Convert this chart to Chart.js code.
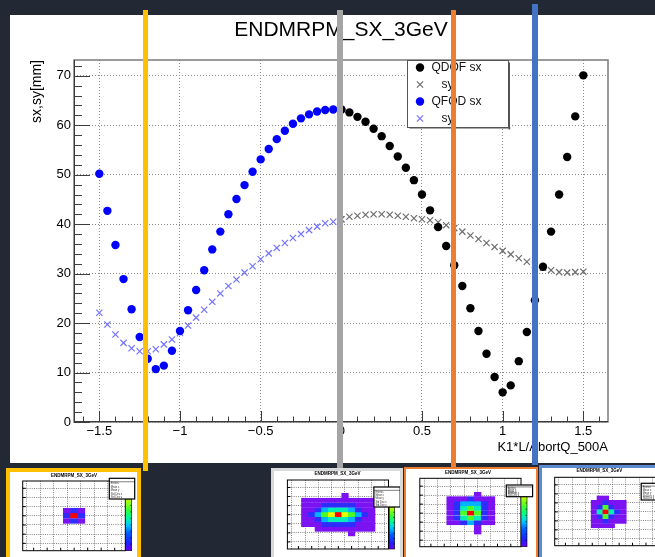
<!DOCTYPE html>
<html lang="en">
<head>
<meta charset="utf-8">
<title>ENDMRPM_SX_3GeV</title>
<script src="https://cdn.jsdelivr.net/npm/chart.js@4.4.1/dist/chart.umd.min.js"></script>
<style>
  html, body { margin: 0; padding: 0; }
  body { position: relative; width: 655px; height: 557px; overflow: hidden; background: #222834; }
  #panel { position: absolute; left: 10px; top: 15px; width: 645px; height: 448px; background: #fff; }
  .thumb { position: absolute; box-sizing: border-box; background: #fff; border-style: solid; overflow: hidden; }
  .thumb canvas { position: absolute; left: 0; top: 0; }
  .marker-line { position: absolute; }
</style>
</head>
<body>
<div id="panel"><canvas id="scan" width="645" height="448"></canvas></div>
<div id="thumbs"></div>
<div class="marker-line" style="left:143px;top:10px;width:5px;height:461px;background:#FFC000"></div>
<div class="marker-line" style="left:337px;top:10px;width:6px;height:458px;background:#A5A5A5"></div>
<div class="marker-line" style="left:451px;top:10px;width:5px;height:457px;background:#ED7D31"></div>
<div class="marker-line" style="left:532px;top:4px;width:6px;height:461px;background:#4472C4"></div>
<script>
// QFOD scan (K1*L/AbortQ_500A from -1.5 to 0)
const kQfod = [-1.5, -1.45, -1.4, -1.35, -1.3, -1.25, -1.2, -1.15, -1.1, -1.05, -1.0,
               -0.95, -0.9, -0.85, -0.8, -0.75, -0.7, -0.65, -0.6, -0.55, -0.5,
               -0.45, -0.4, -0.35, -0.3, -0.25, -0.2, -0.15, -0.1, -0.05, 0];
const qfodSx = [50.2, 42.7, 35.8, 28.9, 22.8, 17.2, 12.8, 10.7, 11.4, 14.4, 18.4,
                22.6, 26.7, 30.7, 34.9, 38.5, 42.0, 45.1, 47.9, 50.6, 53.1,
                55.2, 57.2, 58.9, 60.3, 61.4, 62.2, 62.8, 63.1, 63.2, 63.2];
const qfodSy = [22.1, 19.7, 17.7, 16.0, 14.9, 14.3, 14.3, 14.7, 15.7, 16.7, 18.0,
                19.5, 21.1, 22.7, 24.3, 26.0, 27.5, 28.8, 30.2, 31.5, 32.9,
                34.1, 35.2, 36.2, 37.2, 38.0, 38.8, 39.5, 40.2, 40.5, 41.0];

// QDOF scan (K1*L/AbortQ_500A from 0 to 1.5)
const kQdof = [0, 0.05, 0.1, 0.15, 0.2, 0.25, 0.3, 0.35, 0.4, 0.45, 0.5,
               0.55, 0.6, 0.65, 0.7, 0.75, 0.8, 0.85, 0.9, 0.95, 1.0,
               1.05, 1.1, 1.15, 1.2, 1.25, 1.3, 1.35, 1.4, 1.45, 1.5];
const qdofSx = [63.2, 62.6, 61.7, 60.7, 59.3, 57.8, 55.8, 53.7, 51.4, 48.9, 46.0,
                42.8, 39.4, 35.6, 31.7, 27.5, 23.0, 18.4, 13.8, 9.1, 6.0,
                7.4, 12.3, 18.2, 24.6, 31.4, 38.5, 46.0, 53.6, 61.8, 70.1];
const qdofSy = [41.0, 41.5, 41.7, 41.9, 42.0, 42.0, 41.9, 41.7, 41.5, 41.2, 41.0,
                40.8, 40.4, 39.8, 39.2, 38.5, 37.7, 37.0, 36.2, 35.4, 34.6,
                33.9, 33.1, 32.4, 31.8, 31.2, 30.7, 30.3, 30.2, 30.3, 30.4];

const seriesLabels = ['QDOF sx', '   sy', 'QFOD sx', '   sy'];
const xTicks = [-1.5, -1, -0.5, 0, 0.5, 1, 1.5];
const xTickLabels = ['\u22121.5', '\u22121', '\u22120.5', '0', '0.5', '1', '1.5'];
const yTicks = [0, 10, 20, 30, 40, 50, 60, 70];
const yTickLabels = ['0', '10', '20', '30', '40', '50', '60', '70'];

// beam spot thumbnails: colour level per bin, rows from top
const beamSpot1 = [[1, 2, 1],
                   [2, 7, 2],
                   [1, 2, 1]];
const beamSpot2 = [[0, 0, 0, 0, 0, 0, 1, 0, 0, 0, 0],
                   [1, 1, 1, 1, 1, 1, 1, 1, 1, 1, 1],
                   [1, 1, 1, 2, 2, 2, 2, 2, 1, 1, 1],
                   [1, 1, 2, 3, 4, 4, 4, 3, 2, 1, 1],
                   [1, 2, 3, 5, 6, 7, 6, 5, 3, 2, 1],
                   [1, 1, 2, 3, 4, 4, 4, 3, 2, 1, 1],
                   [1, 1, 1, 2, 2, 2, 2, 2, 1, 1, 1],
                   [0, 0, 1, 1, 1, 1, 1, 1, 1, 1, 1],
                   [0, 0, 0, 0, 0, 0, 0, 1, 0, 0, 0]];
const beamSpot3 = [[0, 0, 0, 0, 1, 0, 0],
                   [1, 1, 1, 2, 1, 1, 1],
                   [1, 2, 3, 3, 3, 2, 1],
                   [1, 2, 4, 5, 4, 2, 1],
                   [1, 2, 5, 7, 5, 2, 1],
                   [1, 2, 4, 5, 4, 2, 1],
                   [1, 1, 2, 3, 2, 1, 1],
                   [0, 0, 0, 0, 1, 0, 0],
                   [0, 0, 0, 0, 1, 0, 0]];
const beamSpot4 = [[0, 1, 1, 0, 0, 0],
                   [1, 1, 2, 1, 1, 1],
                   [1, 2, 5, 2, 1, 1],
                   [1, 4, 7, 4, 2, 1],
                   [1, 2, 5, 2, 1, 1],
                   [1, 1, 2, 1, 1, 1],
                   [1, 1, 1, 1, 0, 0]];
const heatColors = ['#7b12f2', '#2d2dff', '#00b2ff', '#00f0b4', '#4cff20', '#e6ff00', '#ff0000'];
const statNames = ['Entries', 'Mean x', 'Mean y', 'Std Dev x', 'Std Dev y'];

Chart.defaults.font.family = '"Liberation Sans", Arial, Helvetica, sans-serif';
Chart.defaults.color = '#000';
Chart.defaults.animation = false;

function points(xs, ys) {
    return xs.map(function(x, i) { return { x: x, y: ys[i] }; });
}

// ROOT style frame, inward ticks, title and legend box
const rootFrame = {
    id: 'rootFrame',
    afterDatasetsDraw(chart) {
        const ctx = chart.ctx, a = chart.chartArea;
        const xs = chart.scales.x, ys = chart.scales.y;
        ctx.save();
        ctx.strokeStyle = '#7a7a7a';
        ctx.lineWidth = 1.5;
        ctx.strokeRect(a.left, a.top, a.right - a.left, a.bottom - a.top);

        ctx.strokeStyle = '#3c3c3c';
        ctx.lineWidth = 1;
        ctx.beginPath();
        ctx.moveTo(a.left + 0.5, a.top);
        ctx.lineTo(a.left + 0.5, a.bottom);
        ctx.moveTo(a.left, a.bottom - 0.5);
        ctx.lineTo(a.right, a.bottom - 0.5);
        for (let i = 0; i * 2 <= ys.max; i++) {
            const py = Math.round(ys.getPixelForValue(i * 2)) + 0.5;
            ctx.moveTo(a.left, py);
            ctx.lineTo(a.left + (i % 5 === 0 ? 16 : 8), py);
        }
        for (let i = -16; i <= 16; i++) {
            const v = i / 10;
            if (v < xs.min || v > xs.max) continue;
            const px = Math.round(xs.getPixelForValue(v)) + 0.5;
            ctx.moveTo(px, a.bottom);
            ctx.lineTo(px, a.bottom - (i % 5 === 0 ? 11 : 5.5));
        }
        ctx.stroke();
        ctx.restore();
    },
    afterDraw(chart) {
        const ctx = chart.ctx;
        ctx.save();
        ctx.fillStyle = '#000';
        ctx.font = '21px "Liberation Sans", Arial, sans-serif';
        ctx.textAlign = 'center';
        ctx.textBaseline = 'middle';
        ctx.fillText('ENDMRPM_SX_3GeV', 331, 15);

        // legend
        const box = { left: 397.5, top: 45.5, right: 498.5, bottom: 112.5 };
        ctx.fillStyle = '#fff';
        ctx.fillRect(box.left, box.top, box.right - box.left, box.bottom - box.top);
        ctx.strokeStyle = '#555';
        ctx.lineWidth = 1;
        ctx.strokeRect(box.left, box.top, box.right - box.left, box.bottom - box.top);
        ctx.fillStyle = '#555';
        ctx.fillRect(box.right, box.top + 2, 1.5, box.bottom - box.top);
        ctx.fillRect(box.left + 2, box.bottom, box.right - box.left, 1);

        ctx.font = '12px "Liberation Sans", Arial, sans-serif';
        ctx.textAlign = 'left';
        chart.data.datasets.forEach(function(ds, i) {
            const y = box.top + 7 + i * 17;
            ctx.fillStyle = ds.pointBackgroundColor;
            ctx.strokeStyle = ds.pointBorderColor;
            ctx.lineWidth = ds.pointBorderWidth || 1;
            Chart.helpers.drawPoint(ctx, {
                pointStyle: ds.pointStyle, radius: ds.pointRadius, rotation: 0,
                borderWidth: ds.pointBorderWidth
            }, 410, y);
            ctx.fillStyle = '#111';
            ctx.fillText(ds.label, 421.5, y + 0.5);
        });
        ctx.restore();
    }
};

new Chart(document.getElementById('scan'), {
    type: 'scatter',
    data: {
        datasets: [
            { label: seriesLabels[0], data: points(kQdof, qdofSx), pointStyle: 'circle', pointRadius: 4.2,
              pointBackgroundColor: '#000', pointBorderColor: '#000', pointBorderWidth: 0 },
            { label: seriesLabels[1], data: points(kQdof, qdofSy), pointStyle: 'crossRot', pointRadius: 4.4,
              pointBackgroundColor: '#6e6e6e', pointBorderColor: '#6e6e6e', pointBorderWidth: 1.2 },
            { label: seriesLabels[2], data: points(kQfod, qfodSx), pointStyle: 'circle', pointRadius: 4.2,
              pointBackgroundColor: '#0000ff', pointBorderColor: '#0000ff', pointBorderWidth: 0 },
            { label: seriesLabels[3], data: points(kQfod, qfodSy), pointStyle: 'crossRot', pointRadius: 4.4,
              pointBackgroundColor: '#7474ff', pointBorderColor: '#7474ff', pointBorderWidth: 1.2 }
        ]
    },
    options: {
        responsive: false,
        layout: { padding: { left: 0, right: 47, top: 45, bottom: 0 } },
        plugins: { legend: { display: false }, title: { display: false }, tooltip: { enabled: false } },
        scales: {
            x: {
                type: 'linear', min: -1.657, max: 1.653,
                afterBuildTicks: function(s) { s.ticks = xTicks.map(function(v) { return { value: v }; }); },
                afterFit: function(s) { s.height = 41; },
                grid: { color: '#8c8c8c', lineWidth: 1, drawTicks: false },
                border: { display: false, dash: [1, 2] },
                ticks: { padding: 2, maxRotation: 0, font: { size: 13 },
                         callback: function(v, i) { return xTickLabels[i]; } },
                title: { display: true, text: 'K1*L/AbortQ_500A', align: 'end',
                         font: { size: 13 }, padding: { top: 0, bottom: 7.7 } }
            },
            y: {
                min: 0, max: 73.2,
                afterBuildTicks: function(s) { s.ticks = yTicks.map(function(v) { return { value: v }; }); },
                afterFit: function(s) { s.width = 64; },
                grid: { color: '#8c8c8c', lineWidth: 1, drawTicks: false },
                border: { display: false, dash: [1, 2] },
                ticks: { padding: 3, font: { size: 13 },
                         callback: function(v, i) { return yTickLabels[i]; } },
                title: { display: true, text: 'sx,sy[mm]', align: 'end',
                         font: { size: 14 }, padding: { top: 18.6, bottom: 0 } }
            }
        }
    },
    plugins: [rootFrame]
});

// thumbnails of the beam spot (page coordinates)
const thumbs = [
    { left: 6, top: 468, width: 135, height: 100, border: 4, color: '#FFC000', cells: beamSpot1, cx: 1, cy: 1,
      frame: [22.7, 481, 125.3, 550.7], stats: [109.3, 478.3, 134.7, 499], palette: [125.3, 499, 131.7, 550.7],
      titleAt: [74, 475.7], xr: [-7.12, 7.07], yr: [-6.98, 6.96] },
    { left: 271, top: 468, width: 132, height: 100, border: 3, color: '#d9d9d9', cells: beamSpot2, cx: 5, cy: 4,
      frame: [287.4, 480, 388.5, 549], stats: [373.9, 487, 400.2, 507], palette: [389.3, 507, 394.7, 549],
      titleAt: [337.5, 474], xr: [-7.6, 7.49], yr: [-7.22, 7.3] },
    { left: 404, top: 467, width: 134, height: 100, border: 2, color: '#ED7D31', cells: beamSpot3, cx: 3, cy: 4,
      frame: [419.8, 478.3, 521, 546.7], stats: [506.3, 485, 532.6, 496.7], palette: [521, 496.7, 527, 546.7],
      titleAt: [468, 472.3], xr: [-7.4, 7.27], yr: [-7.14, 7.41] },
    { left: 539, top: 465, width: 130, height: 100, border: 3, color: '#5b8ad2', cells: beamSpot4, cx: 2, cy: 3,
      frame: [554.7, 477.3, 656.7, 545.7], stats: [641.2, 483.3, 667, 500], palette: [657, 500, 663, 545.7],
      titleAt: [599.4, 471], xr: [-8.65, 8.65], yr: [-7.35, 7.52] }
];

function makeHistDecor(t, ox, oy) {
    return {
        id: 'histDecor',
        afterDraw(chart) {
            const ctx = chart.ctx, a = chart.chartArea;
            const xs = chart.scales.x, ys = chart.scales.y;
            ctx.save();
            ctx.strokeStyle = '#000';
            ctx.lineWidth = 1;
            ctx.strokeRect(a.left, a.top, a.right - a.left, a.bottom - a.top);
            ctx.beginPath();
            xs.ticks.forEach(function(tk) {
                const px = xs.getPixelForValue(tk.value);
                ctx.moveTo(px, a.bottom); ctx.lineTo(px, a.bottom - 3);
            });
            ys.ticks.forEach(function(tk) {
                const py = ys.getPixelForValue(tk.value);
                ctx.moveTo(a.left, py); ctx.lineTo(a.left + 3, py);
            });
            ctx.stroke();

            // colour palette
            const p = t.palette;
            const g = ctx.createLinearGradient(0, p[3] - oy, 0, p[1] - oy);
            g.addColorStop(0, '#6a00ff');
            g.addColorStop(0.15, '#2020ff');
            g.addColorStop(0.35, '#0060ff');
            g.addColorStop(0.5, '#00c8ff');
            g.addColorStop(0.65, '#00ff90');
            g.addColorStop(0.8, '#40ff30');
            g.addColorStop(1, '#c8ff00');
            ctx.fillStyle = g;
            ctx.fillRect(p[0] - ox, p[1] - oy, p[2] - p[0], p[3] - p[1]);
            ctx.lineWidth = 0.6;
            ctx.strokeRect(p[0] - ox, p[1] - oy, p[2] - p[0], p[3] - p[1]);
            ctx.beginPath();
            for (let k = 1; k < 8; k++) {
                const py = p[1] - oy + k * (p[3] - p[1]) / 8;
                ctx.moveTo(p[2] - ox - 1.5, py); ctx.lineTo(p[2] - ox, py);
            }
            ctx.stroke();

            // stats box
            const s = t.stats;
            const sw = s[2] - s[0], sh = s[3] - s[1];
            ctx.fillStyle = '#fff';
            ctx.fillRect(s[0] - ox, s[1] - oy, sw, sh);
            ctx.lineWidth = 1.2;
            ctx.strokeRect(s[0] - ox, s[1] - oy, sw, sh);
            ctx.lineWidth = 0.5;
            ctx.beginPath();
            ctx.moveTo(s[0] - ox, s[1] - oy + sh / 6);
            ctx.lineTo(s[2] - ox, s[1] - oy + sh / 6);
            ctx.stroke();
            ctx.fillStyle = '#333';
            ctx.font = '2.6px "Liberation Sans", Arial, sans-serif';
            ctx.textAlign = 'left';
            ctx.textBaseline = 'middle';
            statNames.forEach(function(name, k) {
                ctx.fillText(name, s[0] - ox + 1.5, s[1] - oy + sh / 6 + (k + 0.5) * (sh * 5 / 6) / 5);
            });

            ctx.fillStyle = '#000';
            ctx.font = 'bold 4.5px "Liberation Sans", Arial, sans-serif';
            ctx.textAlign = 'center';
            ctx.fillText('ENDMRPM_SX_3GeV', t.titleAt[0] - ox, t.titleAt[1] - oy);
            ctx.restore();
        }
    };
}

function gridTicks(range) {
    const step = (range[1] - range[0]) / 7.6;
    const out = [];
    for (let k = -4; k <= 4; k++) {
        const v = k * step;
        if (v > range[0] && v < range[1]) out.push({ value: v });
    }
    return out;
}

thumbs.forEach(function(t) {
    const div = document.createElement('div');
    div.className = 'thumb';
    div.style.left = t.left + 'px';
    div.style.top = t.top + 'px';
    div.style.width = t.width + 'px';
    div.style.height = t.height + 'px';
    div.style.borderWidth = t.border + 'px';
    div.style.borderColor = t.color;
    const canvas = document.createElement('canvas');
    const cw = t.width - 2 * t.border, chh = t.height - 2 * t.border;
    canvas.width = cw;
    canvas.height = chh;
    div.appendChild(canvas);
    document.getElementById('thumbs').appendChild(div);

    const ox = t.left + t.border, oy = t.top + t.border;
    const datasets = t.cells.map(function(row, r) {
        const pts = [], colors = [];
        row.forEach(function(level, c) {
            if (!level) return;
            pts.push({ x: c - t.cx, y: [t.cy - r - 0.5, t.cy - r + 0.5] });
            colors.push(heatColors[level - 1]);
        });
        return { data: pts, backgroundColor: colors, borderColor: colors, borderWidth: 0.3,
                 grouped: false, barPercentage: 1, categoryPercentage: 1 };
    });

    new Chart(canvas, {
        type: 'bar',
        data: { datasets: datasets },
        options: {
            responsive: false,
            layout: { padding: { left: t.frame[0] - ox, top: t.frame[1] - oy,
                                 right: cw - (t.frame[2] - ox), bottom: chh - (t.frame[3] - oy) } },
            plugins: { legend: { display: false }, tooltip: { enabled: false } },
            scales: {
                x: { type: 'linear', offset: false, min: t.xr[0], max: t.xr[1],
                     afterBuildTicks: function(s) { s.ticks = gridTicks(t.xr); },
                     afterFit: function(s) { s.height = 0; },
                     ticks: { display: false },
                     grid: { color: '#555', lineWidth: 0.7, drawTicks: false },
                     border: { display: false, dash: [1, 1.2] } },
                y: { min: t.yr[0], max: t.yr[1],
                     afterBuildTicks: function(s) { s.ticks = gridTicks(t.yr); },
                     afterFit: function(s) { s.width = 0; },
                     ticks: { display: false },
                     grid: { color: '#555', lineWidth: 0.7, drawTicks: false },
                     border: { display: false, dash: [1, 1.2] } }
            }
        },
        plugins: [makeHistDecor(t, ox, oy)]
    });
});
</script>
</body>
</html>
